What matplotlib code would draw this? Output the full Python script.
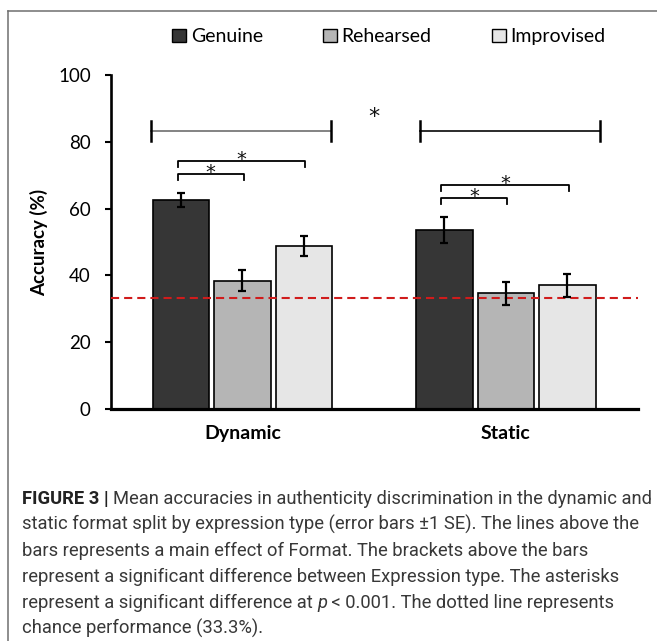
import matplotlib
matplotlib.use("Agg")
import matplotlib.pyplot as plt
from matplotlib.patches import Patch
from matplotlib.lines import Line2D
import numpy as np

categories = ["Dynamic", "Static"]
series = ["Genuine", "Rehearsed", "Improvised"]
genuine = [62.6, 53.5]
genuine_se = [2.2, 3.9]
rehearsed = [38.4, 34.6]
rehearsed_se = [3.1, 3.5]
improvised = [48.7, 37.0]
improvised_se = [3.0, 3.5]
chance = 33.3

# main effect of Format: one line per group, plus the star between them
format_line_y = 83.3
format_star_y = 89.5
# brackets (Genuine vs Rehearsed, Genuine vs Improvised) per group
bracket_short_y = [70.5, 63.2]
bracket_long_y = [74.4, 67.2]

caption = [
    [("FIGURE 3 | ", "bold"), ("Mean accuracies in authenticity discrimination in the dynamic and", "normal")],
    [("static format split by expression type (error bars \u00b11 SE). The lines above the", "normal")],
    [("bars represents a main effect of Format. The brackets above the bars", "normal")],
    [("represent a significant difference between Expression type. The asterisks", "normal")],
    [("represent a significant difference at ", "normal"), ("p", "italic"),
     (" < 0.001. The dotted line represents", "normal")],
    [("chance performance (33.3%).", "normal")],
]

colors = ["#363636", "#b5b5b5", "#e6e6e6"]

plt.rcParams['font.family'] = ['Lato', 'DejaVu Sans']

W, H = 657, 641
fig = plt.figure(figsize=(W / 100, H / 100), dpi=100)
ax = fig.add_axes([110.7 / W, 1 - 408.7 / H, 527 / W, 333.4 / H])

x = np.arange(len(categories))
width = 0.214
step = 0.2334
values = [genuine, rehearsed, improvised]
errors = [genuine_se, rehearsed_se, improvised_se]
for k in range(3):
    pos = x + (k - 1) * step
    ax.bar(pos, values[k], width, color=colors[k], edgecolor="black", linewidth=1.2, zorder=2)
    ax.errorbar(pos, values[k], yerr=errors[k], fmt="none", ecolor="black",
                elinewidth=1.6, capsize=2.7, capthick=1.6, zorder=4)

ax.axhline(chance, color="#d01c1c", lw=1.5, ls=(0, (3.9, 2.4)), zorder=3)

# format lines
spans = [(-0.347, 0.336), (0.674, 1.356)]
line_cols = ["#7a7a7a", "#1a1a1a"]
for (a, b), c in zip(spans, line_cols):
    ax.plot([a, b], [format_line_y] * 2, color=c, lw=1.3, zorder=3)
    for xx in (a, b):
        ax.plot([xx, xx], [format_line_y - 3, format_line_y + 3], color="black", lw=1.8, zorder=3)


def star(xc, yc, size=15):
    ax.text(xc, yc - 0.59 * size * 1.389 / 3.333, "*", ha="center", va="baseline",
            fontsize=size, color="#111111", family="DejaVu Sans")


star(0.499, format_star_y, 16)

drop = 1.9
for i in range(len(categories)):
    left = x[i] - step - 0.013
    for right_bar, yb in ((x[i] + 0.005, bracket_short_y[i]), (x[i] + step + 0.005, bracket_long_y[i])):
        ax.plot([left, left, right_bar, right_bar], [yb - drop, yb, yb, yb - drop],
                color="black", lw=1.3, zorder=3)
        star((left + right_bar) / 2, yb + 2.1, 14)

ax.set_xlim(-0.5, 1.5)
ax.set_ylim(0, 100)
ax.set_yticks([0, 20, 40, 60, 80, 100])
ax.set_xticks(x)
ax.set_xticklabels(categories, fontsize=14, fontweight="bold")
ax.tick_params(axis="x", length=0, pad=12)
ax.tick_params(axis="y", length=4.3, width=1.5, pad=10, labelsize=13.5)
for s in ("top", "right"):
    ax.spines[s].set_visible(False)
ax.spines["left"].set_linewidth(1.9)
ax.spines["bottom"].set_linewidth(2.3)
ax.set_ylabel("Accuracy (%)", fontsize=13.5, fontweight="bold")
ax.yaxis.set_label_coords(-0.118, 0.5)

handles = [Patch(facecolor=c, edgecolor="black", linewidth=1) for c in colors]
fig.legend(handles, series, loc="center", bbox_to_anchor=(389 / W, 1 - 36.7 / H), ncol=3,
           frameon=False, fontsize=14, handlelength=0.7, handleheight=0.7,
           handletextpad=0.25, columnspacing=3.1)

# outer frame of the figure panel (cut off at right and bottom)
fx = 7.5 / W
fy = 1 - 11 / H
fig.add_artist(Line2D([fx, fx], [0, fy], color="#6f6f6f", lw=1.1))
fig.add_artist(Line2D([fx, 1], [fy, fy], color="#6f6f6f", lw=1.1))

# caption
fig.canvas.draw()
renderer = fig.canvas.get_renderer()
cap_font = ["Roboto", "DejaVu Sans"]


def draw_line(runs, y, fs):
    xpos = 22
    for txt, style in runs:
        kw = dict(fontsize=fs, family=cap_font, va="baseline", ha="left")
        if style == "bold":
            kw.update(fontweight="bold", color="#222222")
        elif style == "italic":
            kw.update(style="italic", color="#383838")
        else:
            kw.update(color="#383838")
        t = fig.text(xpos / W, 1 - y / H, txt, **kw)
        bb = t.get_window_extent(renderer)
        xpos += bb.width
    return xpos - 22


fs = 12
probe = draw_line(caption[0], -100, fs)
fs = fs * 626 / probe
for t in list(fig.texts):
    t.remove()
for j, runs in enumerate(caption):
    draw_line(runs, 504 + 26 * j, fs)

fig.savefig("out.png", dpi=100)
